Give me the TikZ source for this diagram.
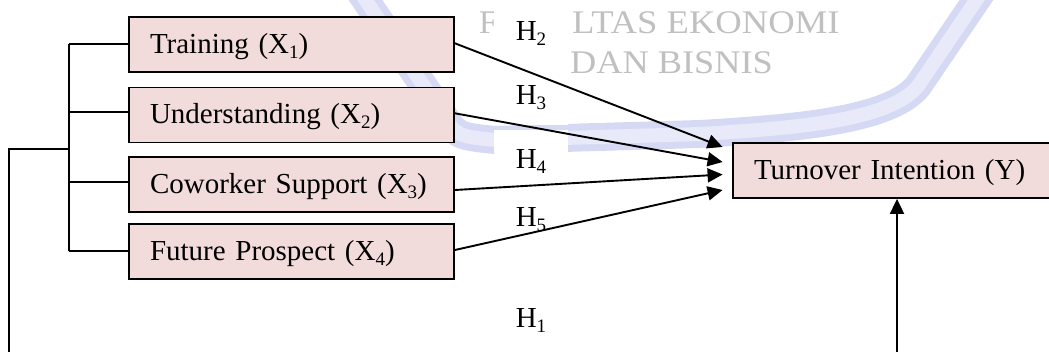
\documentclass[tikz,border=0pt]{standalone}
\usepackage{fontspec}
\usepackage{graphicx}
\setmainfont{Liberation Serif}
\usetikzlibrary{arrows.meta,calc}
\definecolor{boxfill}{HTML}{F2DCDB}
\definecolor{bandcol}{RGB}{214,217,244}
\definecolor{bandin}{RGB}{232,234,250}
\definecolor{wmcol}{RGB}{192,192,192}
\newcommand{\sbx}[1]{\raisebox{-5pt}{\fontsize{19}{20}\selectfont #1}}
\tikzset{
 bx/.style={draw=black, line width=1.8pt, fill=boxfill, minimum height=55pt, text width=283pt, inner xsep=21pt, inner ysep=0pt, align=left, font=\fontsize{29}{34}\selectfont, text height=21pt, text depth=4pt},
 hl/.style={fill=white, anchor=base, minimum width=74pt, inner xsep=0pt, inner ysep=17pt, font=\fontsize{29}{34}\selectfont, text height=21pt, text depth=4pt},
 wm/.style={text=wmcol, anchor=base west, inner sep=0pt, font=\fontsize{33}{35}\selectfont},
 ln/.style={line width=1.9pt},
 arr/.style={ln, -{Triangle[length=15pt,width=14pt]}},
}
\begin{document}
\begin{tikzpicture}[x=1pt,y=-1pt]
\useasboundingbox (0,0) rectangle (1049,351);
\clip (0,0) rectangle (1049,351);
% watermark
\draw[bandcol, line width=28pt, line join=round] (352,-20) -- (440,110) .. controls (456,136) .. (495,140) -- (700,134) .. controls (800,128) and (890,120) .. (918,86) -- (990,-20);
\draw[bandin, line width=14pt, line join=round] (352,-20) -- (440,110) .. controls (456,136) .. (495,140) -- (700,134) .. controls (800,128) and (890,120) .. (918,86) -- (990,-20);
\node[wm] (wm0) at (479,33) {F};
\node[wm] (wm1) at (572,33) {\scalebox{1.11}[1]{LTAS EKONOMI}};
\node[wm] (wm2) at (570,73) {\scalebox{1.1}[1]{DAN BISNIS}};
% boxes
\node[bx] (b1) at (291.5,44.8) {Training (X\sbx{1})};
\node[bx] (b2) at (291.5,115) {Understanding (X\sbx{2})};
\node[bx] (b3) at (291.5,184.5) {Coworker Support (X\sbx{3})};
\node[bx] (b4) at (291.5,251.7) {Future Prospect (X\sbx{4})};
\node[bx] (y) at (895.5,170.5) {Turnover Intention (Y)};
% labels
\node[hl] (h2) at (531,40) {H\sbx{2}};
\node[hl] (h3) at (531,104) {H\sbx{3}};
\node[hl] (h4) at (531,168) {H\sbx{4}};
\node[hl] (h5) at (531,226) {H\sbx{5}};
\node[hl] (h1) at (531,327) {H\sbx{1}};
% bracket
\coordinate (brt) at (69.3,44.3);
\coordinate (brb) at (69.3,250.7);
\draw[ln] (brt) -- (brb);
\draw[ln] (brt) -- (brt -| b1.west);
\draw[ln] (69.3,112.3) -- (b2.west |- 0,112.3);
\draw[ln] (69.3,181.7) -- (b3.west |- 0,181.7);
\draw[ln] (brb) -- (brb -| b4.west);
\coordinate (lt) at (9,149.3);
\coordinate (lb) at (9,360);
\draw[ln] (lb) -- (lt) -- (brt |- lt);
% arrows to Y
\draw[arr] ([yshift=1.5pt]b1.east) -- ([xshift=-9.5pt,yshift=23.5pt]y.west);
\draw[arr] ([yshift=1.7pt]b2.east) -- ([xshift=-9.5pt,yshift=8.5pt]y.west);
\draw[arr] ([yshift=-5.5pt]b3.east) -- ([xshift=-9.5pt,yshift=-4pt]y.west);
\draw[arr] ([yshift=1.7pt]b4.east) -- ([xshift=-9.5pt,yshift=-19.5pt]y.west);
\coordinate (yb) at (897,360);
\draw[arr] (yb) -- (yb |- y.south);
\end{tikzpicture}
\end{document}
